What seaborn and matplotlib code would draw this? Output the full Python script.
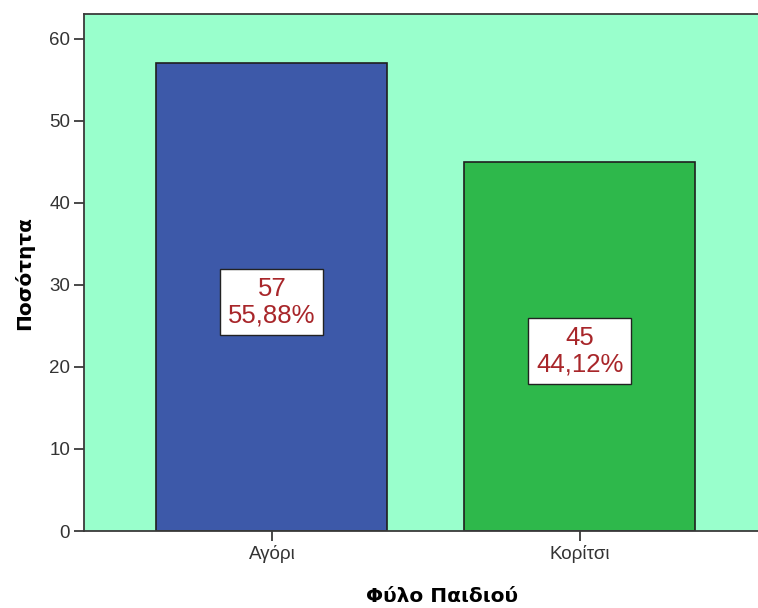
import matplotlib
matplotlib.use("Agg")
import matplotlib.pyplot as plt
import seaborn as sns
import pandas as pd

categories = ["Αγόρι", "Κορίτσι"]
counts = [57, 45]
percents = ["55,88%", "44,12%"]
bar_colors = ["#3D59A9", "#2EB84B"]

sns.set_theme(style="white")
plt.rcParams["font.family"] = ["Liberation Sans", "DejaVu Sans"]

df = pd.DataFrame({"Φύλο Παιδιού": categories, "Ποσότητα": counts})

fig = plt.figure(figsize=(7.58, 6.08), dpi=100)
W, H = 758, 608
ax = fig.add_axes([84 / W, (H - 531) / H, (800 - 84) / W, (531 - 14) / H])
ax.set_facecolor("#99FFCC")

sns.barplot(data=df, x="Φύλο Παιδιού", y="Ποσότητα", hue="Φύλο Παιδιού",
            palette=bar_colors, saturation=1, width=0.75,
            edgecolor="#1f1f1f", linewidth=1.2, legend=False, ax=ax)

ax.set_ylim(0, 63)
ax.set_xlim(-0.61, 1.715)
ax.set_yticks([0, 10, 20, 30, 40, 50, 60])

for i, (c, p) in enumerate(zip(counts, percents)):
    ax.text(i, c / 2 - 0.6, f"{c}\n{p}", ha="center", va="center",
            fontsize=18.5, color="#A8262A", linespacing=1.15,
            bbox=dict(boxstyle="square,pad=0.3", facecolor="white",
                      edgecolor="#222222", linewidth=1.0))

for side in ["left", "bottom", "top"]:
    ax.spines[side].set_color("#3a3a3a")
    ax.spines[side].set_linewidth(1.3)
ax.spines["right"].set_visible(False)

ax.tick_params(axis="both", which="major", direction="out", length=7,
               width=1.3, color="#3a3a3a", labelsize=13.5,
               labelcolor="#333333", left=True, bottom=True, pad=3)

ax.set_xlabel("Φύλο Παιδιού", fontsize=14.5, fontweight="heavy",
              family=["DejaVu Sans"], labelpad=17, color="black")
ax.set_ylabel("Ποσότητα", fontsize=14.5, fontweight="heavy",
              family=["DejaVu Sans"], labelpad=11, color="black")

fig.savefig("out.png", dpi=100)
